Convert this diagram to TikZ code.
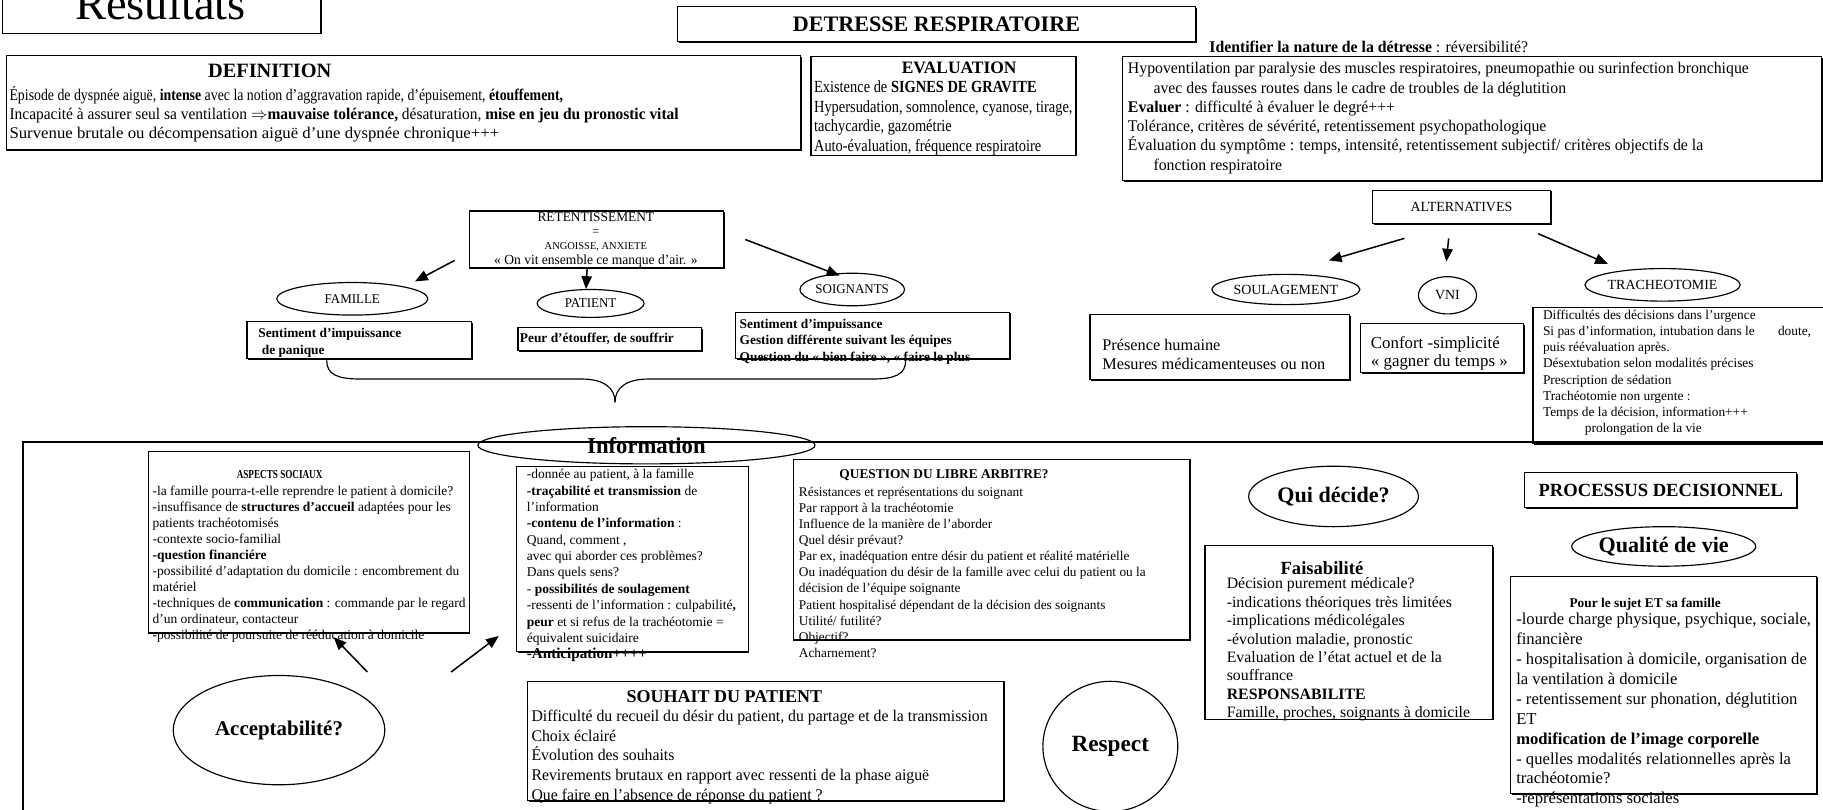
\documentclass[tikz,border=0pt]{standalone}
\usepackage{fontspec}
\setmainfont{Liberation Serif}
\newfontfamily\nf[FakeStretch=0.85]{Liberation Serif}
\newfontfamily\mf[FakeStretch=0.97]{Liberation Serif}
\newfontfamily\af[FakeStretch=0.95]{Liberation Serif}
\newfontfamily\wf[FakeStretch=1.03]{Liberation Serif}
\newfontfamily\xf[FakeStretch=0.75]{Liberation Serif}
\usetikzlibrary{arrows.meta,shapes.geometric,shadows}
\newcommand\fs[2]{\fontsize{#1}{#2}\selectfont}
\begin{document}
\begin{tikzpicture}[x=1pt,y=-1pt,
 bx/.style={draw,line width=1pt,inner sep=0pt,anchor=north west,fill=white,
   drop shadow={shadow xshift=1.1pt,shadow yshift=-1.1pt,fill=black,opacity=1}},
 ov/.style={draw,ellipse,line width=1pt,inner sep=0pt},
 tx/.style={anchor=north west,inner sep=0pt,align=left},
 lab/.style={inner sep=0pt},
 arr/.style={line width=1.3pt,-{Triangle[length=11pt,width=9pt]}}]
\useasboundingbox (0,0) rectangle (1568,696);
\clip (0,0) rectangle (1568,696);

% ---------- top ----------
\node[bx,minimum width=273,minimum height=40] (res) at (2,-12) {};
\node[lab,font=\fs{40}{40},anchor=base] (restxt) at (138,17) {Résultats};

\node[bx,minimum width=446,minimum height=30,font=\bfseries\fs{19}{19}] (det) at (582,5) {DETRESSE RESPIRATOIRE};

\node[bx,minimum width=683,minimum height=81] (def) at (5,47.5) {};
\node[lab,font=\bfseries\fs{17.5}{17.5}] (deft) at (232,61) {DEFINITION};
\node[tx,font=\fs{14}{16}] (defl) at (8,74.5) {\strut{\nf Épisode de dyspnée aiguë, \textbf{intense} avec la notion d’aggravation rapide, d’épuisement, \textbf{étouffement,}}\\ {\af Incapacité à assurer seul sa ventilation $\Rightarrow$\textbf{mauvaise tolérance,} désaturation, \textbf{mise en jeu du pronostic vital}}\\ {\wf Survenue brutale ou décompensation aiguë d’une dyspnée chronique+++}};

\node[bx,minimum width=228,minimum height=85] (eva) at (697,48) {};
\node[lab,font=\bfseries\fs{15}{15}] (evat) at (825,58) {EVALUATION};
\node[tx,font=\nf\fs{14.6}{17}] (eval) at (700,67.3) {\strut Existence de \textbf{SIGNES DE GRAVITE}\\ Hypersudation, somnolence, cyanose, tirage,\\ tachycardie, gazométrie\\ Auto-évaluation, fréquence respiratoire};

\node[bx,minimum width=601,minimum height=107] (idb) at (965,48) {};
\node[lab,font=\mf\fs{14}{14},anchor=base west] (idt) at (1040,45) {\textbf{Identifier la nature de la détresse} : réversibilité?};
\node[tx,font=\mf\fs{14}{16.6}] (idl) at (970,51.6) {\strut Hypoventilation par paralysie des muscles respiratoires, pneumopathie ou surinfection bronchique\\ \hspace*{22pt}avec des fausses routes dans le cadre de troubles de la déglutition\\ \textbf{Evaluer} : difficulté à évaluer le degré+++\\ Tolérance, critères de sévérité, retentissement psychopathologique\\ Évaluation du symptôme : temps, intensité, retentissement subjectif/ critères objectifs de la\\ \hspace*{22pt}fonction respiratoire};

% ---------- retentissement ----------
\node[bx,minimum width=219,minimum height=49] (ret) at (403,181) {};
\node[lab,font=\fs{11.5}{11.5}] (ret1) at (512.5,187) {RETENTISSEMENT};
\node[lab,font=\fs{10.5}{10.5}] (ret2) at (512.5,200) {=};
\node[lab,font=\fs{9}{9}] (ret3) at (512.5,212) {ANGOISSE, ANXIETE};
\node[lab,font=\mf\fs{12}{12}] (ret4) at (512.5,225) {« On vit ensemble ce manque d’air. »};

\node[ov,minimum width=130,minimum height=28,font=\mf\fs{11.5}{11.5}] (fam) at (303,257) {FAMILLE};
\node[ov,minimum width=92,minimum height=24,font=\mf\fs{11.5}{11.5}] (pat) at (508,261) {PATIENT};
\node[ov,minimum width=90,minimum height=28,font=\mf\fs{11.5}{11.5}] (soi) at (733,249) {SOIGNANTS};

\coordinate (rf) at (391,224); \coordinate (ff) at (357,242);
\draw[arr] (rf) -- (ff);
\draw[arr] ([xshift=-8pt]ret.south) -- ([xshift=-4pt]pat.north);
\coordinate (rs) at (641,206); \coordinate (ss) at (722,237);
\draw[arr] (rs) -- (ss);

\node[bx,minimum width=193,minimum height=32] (famb) at (212,276) {};
\node[tx,font=\bfseries\fs{11.5}{14}] (fambt) at (222,280.5) {\strut Sentiment d’impuissance\\ \hspace*{3pt}de panique};
\node[bx,minimum width=158,minimum height=20] (patb) at (445,281) {};
\node[lab,font=\bfseries\fs{11.5}{11.5},anchor=west] (patbt) at (447,291) {Peur d’étouffer, de souffrir};
\node[bx,minimum width=236,minimum height=40] (soib) at (632,268) {};
\node[tx,font=\bfseries\fs{11.5}{14}] (soibt) at (636,272.5) {\strut Sentiment d’impuissance\\ Gestion différente suivant les équipes\\ Question du « bien faire », « faire le plus};

\draw[line width=1pt] (281,310) .. controls (281,322) and (290,326) .. (310,326) -- (500,326) .. controls (520,326) and (529,334) .. (529,346);
\draw[line width=1pt] (779,310) .. controls (779,322) and (770,326) .. (750,326) -- (558,326) .. controls (538,326) and (529,334) .. (529,346);

% ---------- alternatives ----------
\node[bx,minimum width=153,minimum height=29,font=\fs{12}{12}] (alt) at (1180,163) {ALTERNATIVES};
\node[ov,minimum width=118,minimum height=26,font=\fs{12}{12}] (sou) at (1106,249) {SOULAGEMENT};
\node[ov,minimum width=50,minimum height=32,font=\fs{12}{12}] (vni) at (1245,254) {VNI};
\node[ov,minimum width=124,minimum height=28,font=\fs{12}{12}] (tra) at (1430,245) {TRACHEOTOMIE};
\coordinate (a1s) at (1208,205); \coordinate (a1e) at (1143,224);
\coordinate (a2s) at (1246,205); \coordinate (a2e) at (1244,225);
\coordinate (a3s) at (1323,201); \coordinate (a3e) at (1383,227);
\draw[arr] (a1s) -- (a1e);
\draw[arr] (a2s) -- (a2e);
\draw[arr] (a3s) -- (a3e);

\node[bx,minimum width=223,minimum height=56] (soub) at (937,270) {};
\node[tx,font=\fs{14}{16}] (soubt) at (948,290) {\strut Présence humaine\\ Mesures médicamenteuses ou non};
\node[bx,minimum width=140,minimum height=42] (vnib) at (1170,278) {};
\node[tx,font=\fs{14.5}{16}] (vnibt) at (1179,288) {\strut Confort -simplicité\\ « gagner du temps »};
\node[bx,minimum width=250,minimum height=117] (trab) at (1318,264) {};
\node[tx,font=\fs{11.5}{14}] (trabt) at (1327,264.4) {\strut Difficultés des décisions dans l’urgence\\ Si  pas d’information, intubation dans le\hspace{20pt}doute,\\ puis réévaluation après.\\ Désextubation selon modalités précises\\ Prescription de sédation\\ Trachéotomie non urgente :\\ Temps de la décision, information+++\\ \hspace*{36pt}prolongation de la vie};

% ---------- big frame ----------
\draw[line width=1.5pt] (1600,380) -- (20,380) -- (20,720);
\node[ov,minimum width=290,minimum height=32,font=\bfseries\fs{19.5}{19.5}] (info) at (556,383) {Information};

\node[bx,minimum width=276,minimum height=156] (asp) at (127,388) {};
\node[lab,font=\xf\bfseries\fs{10.5}{10.5}] (aspt) at (240.5,408.5) {ASPECTS SOCIAUX};
\node[tx,font=\fs{11.6}{13.76}] (aspl) at (131,416.1) {\strut -la famille pourra-t-elle reprendre le patient à domicile?\\ -insuffisance de \textbf{structures d’accueil} adaptées pour les\\ patients trachéotomisés\\ -contexte socio-familial\\ \textbf{-question financiére}\\ -possibilité d’adaptation du domicile : encombrement du\\ matériel\\ -techniques de \textbf{communication} : commande par le regard\\ d’un ordinateur, contacteur\\ -possibilité de poursuite de rééducation à domicile};

\node[bx,minimum width=199,minimum height=159] (infb) at (444,401) {};
\node[tx,font=\fs{11.6}{14.1}] (infl) at (453,401.6) {\strut -donnée  au patient, à la famille\\ \textbf{-traçabilité et transmission} de\\ l’information\\ \textbf{-contenu de l’information} :\\ Quand, comment ,\\ avec qui aborder ces problèmes?\\ Dans quels sens?\\ - \textbf{possibilités de soulagement}\\ -ressenti de l’information : culpabilité\textbf{,}\\ \textbf{peur} et si refus de la trachéotomie =\\ équivalent suicidaire\\ {\fs{13}{14.1}\textbf{-Anticipation++++}}};

\node[bx,minimum width=341,minimum height=155] (que) at (682,395) {};
\node[lab,font=\bfseries\fs{11.5}{11.5}] (quet) at (812,409) {QUESTION DU LIBRE ARBITRE?};
\node[tx,font=\fs{11.45}{13.9}] (quel) at (687,416.7) {\strut Résistances et représentations du soignant\\ Par rapport à la trachéotomie\\ Influence de  la manière de l’aborder\\ Quel désir prévaut?\\ Par ex, inadéquation entre désir du patient et réalité matérielle\\ Ou inadéquation du désir de la famille avec celui du patient ou la\\ décision de l’équipe soignante\\ Patient hospitalisé dépendant de la décision des soignants\\ Utilité/ futilité?\\ Objectif?\\ Acharnement?};

\node[ov,minimum width=146,minimum height=52,font=\bfseries\fs{19}{19}] (qui) at (1147,427) {Qui décide?};
\node[bx,minimum width=247,minimum height=149] (fai) at (1036,469) {};
\node[lab,font=\bfseries\fs{16}{16}] (fait) at (1137,489) {Faisabilité};
\node[tx,font=\fs{13.6}{15.9}] (fail) at (1055,494.9) {\strut Décision purement médicale?\\ -indications théoriques très limitées\\ -implications médicolégales\\ -évolution maladie, pronostic\\ Evaluation de l’état actuel et de la\\ souffrance\\ \textbf{RESPONSABILITE}\\ Famille, proches, soignants à domicile};

\node[bx,minimum width=234,minimum height=30,font=\bfseries\fs{16}{16}] (pro) at (1311,406) {PROCESSUS DECISIONNEL};
\node[ov,minimum width=120,minimum height=34,font=\bfseries\fs{19}{19}] (qdv) at (1431,470) {Qualité de vie};
\node[bx,minimum width=263,minimum height=187] (qdvb) at (1299,495) {};
\node[lab,font=\bfseries\fs{11.5}{11.5}] (qdvt) at (1415,519.5) {Pour le sujet ET sa famille};
\node[tx,font=\fs{14.3}{17.1}] (qdvl) at (1304,525.3) {\strut -lourde charge physique, psychique, sociale,\\ financière\\ - hospitalisation à domicile, organisation de\\ la ventilation à domicile\\ - retentissement sur phonation, déglutition\\ ET\\ \textbf{modification de l’image corporelle}\\ - quelles modalités relationnelles après la\\ trachéotomie?\\ -représentations sociales};

\node[ov,minimum width=182,minimum height=94,font=\bfseries\fs{18}{18}] (acc) at (240,628) {Acceptabilité?};
\coordinate (c1s) at (316,578); \coordinate (c1e) at (287,548);
\coordinate (c2s) at (388,578); \coordinate (c2e) at (429,547);
\draw[arr] (c1s) -- (c1e);
\draw[arr] (c2s) -- (c2e);

\node[bx,minimum width=410,minimum height=102] (shp) at (453,586) {};
\node[lab,font=\bfseries\fs{15.5}{15.5}] (shpt) at (623,599) {SOUHAIT DU PATIENT};
\node[tx,font=\mf\fs{14}{17}] (shpl) at (457,608.3) {\strut Difficulté du recueil du désir du patient, du partage et de la transmission\\ Choix éclairé\\ Évolution des souhaits\\ Revirements brutaux en rapport avec ressenti de la phase aiguë\\ Que faire en l’absence de  réponse du patient ?};

\node[ov,minimum width=116,minimum height=112,font=\bfseries\fs{20}{20}] (resp) at (955,642) {Respect};
\end{tikzpicture}
\end{document}
